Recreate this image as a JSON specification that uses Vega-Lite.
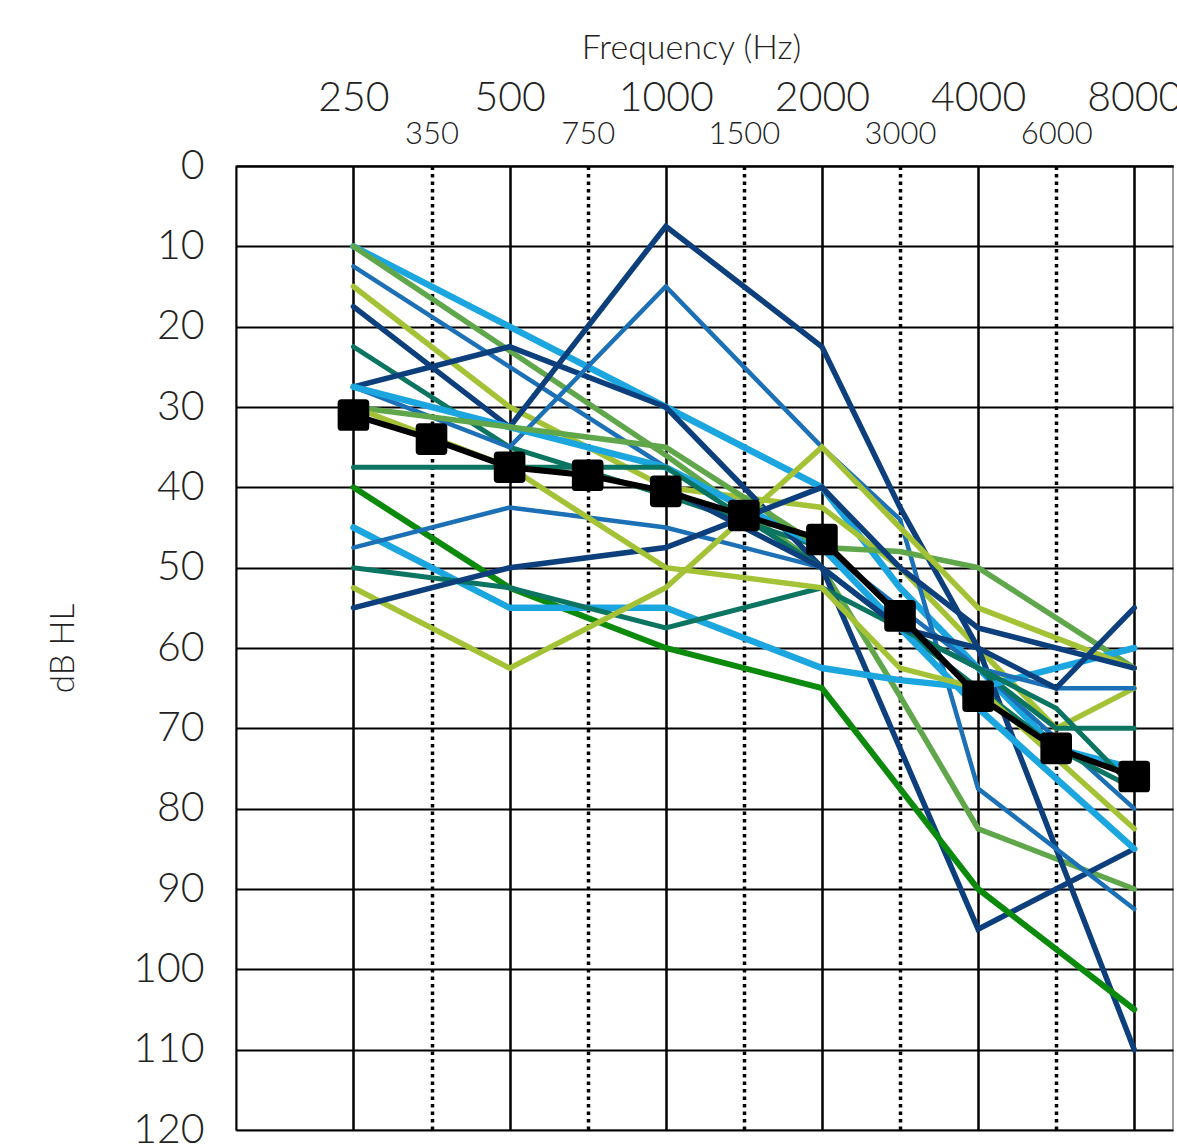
{
  "$schema": "https://vega.github.io/schema/vega-lite/v6.json",
  "width": 937,
  "height": 964,
  "autosize": {"type": "none"},
  "padding": {"left": 236, "top": 166, "right": 4, "bottom": 15},
  "background": "white",
  "config": {
    "font": "Lato",
    "view": {"stroke": "#a0a0a0", "strokeWidth": 2}
  },
  "datasets": {
    "subjects": [
      {"subject": "s1", "tone": "lightblue", "Hz": 250, "dB": 10}, {"subject": "s1", "tone": "lightblue", "Hz": 500, "dB": 20}, {"subject": "s1", "tone": "lightblue", "Hz": 1000, "dB": 30}, {"subject": "s1", "tone": "lightblue", "Hz": 2000, "dB": 40}, {"subject": "s1", "tone": "lightblue", "Hz": 3000, "dB": 52.5}, {"subject": "s1", "tone": "lightblue", "Hz": 4000, "dB": 62.5}, {"subject": "s1", "tone": "lightblue", "Hz": 6000, "dB": 72.5}, {"subject": "s1", "tone": "lightblue", "Hz": 8000, "dB": 75},
      {"subject": "s2", "tone": "midgreen", "Hz": 250, "dB": 10}, {"subject": "s2", "tone": "midgreen", "Hz": 1000, "dB": 36}, {"subject": "s2", "tone": "midgreen", "Hz": 2000, "dB": 50}, {"subject": "s2", "tone": "midgreen", "Hz": 3000, "dB": 66}, {"subject": "s2", "tone": "midgreen", "Hz": 4000, "dB": 82.5}, {"subject": "s2", "tone": "midgreen", "Hz": 8000, "dB": 90},
      {"subject": "s3", "tone": "blue", "Hz": 250, "dB": 12.5}, {"subject": "s3", "tone": "blue", "Hz": 1000, "dB": 37.5}, {"subject": "s3", "tone": "blue", "Hz": 2000, "dB": 47.5}, {"subject": "s3", "tone": "blue", "Hz": 3000, "dB": 55}, {"subject": "s3", "tone": "blue", "Hz": 4000, "dB": 62.5}, {"subject": "s3", "tone": "blue", "Hz": 8000, "dB": 80},
      {"subject": "s4", "tone": "lightgreen", "Hz": 250, "dB": 15}, {"subject": "s4", "tone": "lightgreen", "Hz": 500, "dB": 30}, {"subject": "s4", "tone": "lightgreen", "Hz": 1000, "dB": 40}, {"subject": "s4", "tone": "lightgreen", "Hz": 2000, "dB": 42.5}, {"subject": "s4", "tone": "lightgreen", "Hz": 3000, "dB": 50}, {"subject": "s4", "tone": "lightgreen", "Hz": 4000, "dB": 60}, {"subject": "s4", "tone": "lightgreen", "Hz": 6000, "dB": 70}, {"subject": "s4", "tone": "lightgreen", "Hz": 8000, "dB": 65},
      {"subject": "s5", "tone": "navy", "Hz": 250, "dB": 17.5}, {"subject": "s5", "tone": "navy", "Hz": 500, "dB": 32.5}, {"subject": "s5", "tone": "navy", "Hz": 1000, "dB": 7.5}, {"subject": "s5", "tone": "navy", "Hz": 1500, "dB": 15}, {"subject": "s5", "tone": "navy", "Hz": 2000, "dB": 22.5}, {"subject": "s5", "tone": "navy", "Hz": 3000, "dB": 42.5}, {"subject": "s5", "tone": "navy", "Hz": 4000, "dB": 60}, {"subject": "s5", "tone": "navy", "Hz": 8000, "dB": 110},
      {"subject": "s6", "tone": "teal", "Hz": 250, "dB": 22.5}, {"subject": "s6", "tone": "teal", "Hz": 500, "dB": 35}, {"subject": "s6", "tone": "teal", "Hz": 1000, "dB": 41}, {"subject": "s6", "tone": "teal", "Hz": 2000, "dB": 47.5}, {"subject": "s6", "tone": "teal", "Hz": 3000, "dB": 57.5}, {"subject": "s6", "tone": "teal", "Hz": 4000, "dB": 65}, {"subject": "s6", "tone": "teal", "Hz": 6000, "dB": 72.5}, {"subject": "s6", "tone": "teal", "Hz": 8000, "dB": 77.5},
      {"subject": "s7", "tone": "navy", "Hz": 250, "dB": 27.5}, {"subject": "s7", "tone": "navy", "Hz": 500, "dB": 22.5}, {"subject": "s7", "tone": "navy", "Hz": 1000, "dB": 30}, {"subject": "s7", "tone": "navy", "Hz": 2000, "dB": 50}, {"subject": "s7", "tone": "navy", "Hz": 4000, "dB": 95}, {"subject": "s7", "tone": "navy", "Hz": 8000, "dB": 85},
      {"subject": "s8", "tone": "blue", "Hz": 250, "dB": 27.5}, {"subject": "s8", "tone": "blue", "Hz": 500, "dB": 35}, {"subject": "s8", "tone": "blue", "Hz": 1000, "dB": 15}, {"subject": "s8", "tone": "blue", "Hz": 1500, "dB": 25}, {"subject": "s8", "tone": "blue", "Hz": 2000, "dB": 35}, {"subject": "s8", "tone": "blue", "Hz": 3000, "dB": 44}, {"subject": "s8", "tone": "blue", "Hz": 4000, "dB": 77.5}, {"subject": "s8", "tone": "blue", "Hz": 8000, "dB": 92.5},
      {"subject": "s9", "tone": "lightblue", "Hz": 250, "dB": 27.5}, {"subject": "s9", "tone": "lightblue", "Hz": 500, "dB": 32.5}, {"subject": "s9", "tone": "lightblue", "Hz": 1000, "dB": 37.5}, {"subject": "s9", "tone": "lightblue", "Hz": 2000, "dB": 47.5}, {"subject": "s9", "tone": "lightblue", "Hz": 3000, "dB": 57.5}, {"subject": "s9", "tone": "lightblue", "Hz": 4000, "dB": 67.5}, {"subject": "s9", "tone": "lightblue", "Hz": 8000, "dB": 85},
      {"subject": "s10", "tone": "midgreen", "Hz": 250, "dB": 30}, {"subject": "s10", "tone": "midgreen", "Hz": 500, "dB": 32.5}, {"subject": "s10", "tone": "midgreen", "Hz": 1000, "dB": 35}, {"subject": "s10", "tone": "midgreen", "Hz": 2000, "dB": 47.5}, {"subject": "s10", "tone": "midgreen", "Hz": 3000, "dB": 48}, {"subject": "s10", "tone": "midgreen", "Hz": 4000, "dB": 50}, {"subject": "s10", "tone": "midgreen", "Hz": 8000, "dB": 62.5},
      {"subject": "s11", "tone": "teal", "Hz": 250, "dB": 37.5}, {"subject": "s11", "tone": "teal", "Hz": 1000, "dB": 37.5}, {"subject": "s11", "tone": "teal", "Hz": 2000, "dB": 50}, {"subject": "s11", "tone": "teal", "Hz": 3000, "dB": 57.5}, {"subject": "s11", "tone": "teal", "Hz": 4000, "dB": 62.5}, {"subject": "s11", "tone": "teal", "Hz": 6000, "dB": 70}, {"subject": "s11", "tone": "teal", "Hz": 8000, "dB": 70},
      {"subject": "s12", "tone": "green", "Hz": 250, "dB": 40}, {"subject": "s12", "tone": "green", "Hz": 500, "dB": 52.5}, {"subject": "s12", "tone": "green", "Hz": 1000, "dB": 60}, {"subject": "s12", "tone": "green", "Hz": 2000, "dB": 65}, {"subject": "s12", "tone": "green", "Hz": 4000, "dB": 90}, {"subject": "s12", "tone": "green", "Hz": 8000, "dB": 105},
      {"subject": "s13", "tone": "lightblue", "Hz": 250, "dB": 45}, {"subject": "s13", "tone": "lightblue", "Hz": 500, "dB": 55}, {"subject": "s13", "tone": "lightblue", "Hz": 1000, "dB": 55}, {"subject": "s13", "tone": "lightblue", "Hz": 2000, "dB": 62.5}, {"subject": "s13", "tone": "lightblue", "Hz": 3000, "dB": 64}, {"subject": "s13", "tone": "lightblue", "Hz": 4000, "dB": 65}, {"subject": "s13", "tone": "lightblue", "Hz": 6000, "dB": 62.5}, {"subject": "s13", "tone": "lightblue", "Hz": 8000, "dB": 60},
      {"subject": "s14", "tone": "blue", "Hz": 250, "dB": 47.5}, {"subject": "s14", "tone": "blue", "Hz": 500, "dB": 42.5}, {"subject": "s14", "tone": "blue", "Hz": 1000, "dB": 45}, {"subject": "s14", "tone": "blue", "Hz": 2000, "dB": 50}, {"subject": "s14", "tone": "blue", "Hz": 3000, "dB": 57.5}, {"subject": "s14", "tone": "blue", "Hz": 4000, "dB": 62.5}, {"subject": "s14", "tone": "blue", "Hz": 6000, "dB": 65}, {"subject": "s14", "tone": "blue", "Hz": 8000, "dB": 65},
      {"subject": "s15", "tone": "teal", "Hz": 250, "dB": 50}, {"subject": "s15", "tone": "teal", "Hz": 500, "dB": 52.5}, {"subject": "s15", "tone": "teal", "Hz": 1000, "dB": 57.5}, {"subject": "s15", "tone": "teal", "Hz": 2000, "dB": 52.5}, {"subject": "s15", "tone": "teal", "Hz": 3000, "dB": 57.5}, {"subject": "s15", "tone": "teal", "Hz": 4000, "dB": 62.5}, {"subject": "s15", "tone": "teal", "Hz": 6000, "dB": 67.5}, {"subject": "s15", "tone": "teal", "Hz": 8000, "dB": 77.5},
      {"subject": "s16", "tone": "lightgreen", "Hz": 250, "dB": 52.5}, {"subject": "s16", "tone": "lightgreen", "Hz": 500, "dB": 62.5}, {"subject": "s16", "tone": "lightgreen", "Hz": 1000, "dB": 52.5}, {"subject": "s16", "tone": "lightgreen", "Hz": 2000, "dB": 35}, {"subject": "s16", "tone": "lightgreen", "Hz": 3000, "dB": 45}, {"subject": "s16", "tone": "lightgreen", "Hz": 4000, "dB": 55}, {"subject": "s16", "tone": "lightgreen", "Hz": 8000, "dB": 62.5},
      {"subject": "s17", "tone": "navy", "Hz": 250, "dB": 55}, {"subject": "s17", "tone": "navy", "Hz": 500, "dB": 50}, {"subject": "s17", "tone": "navy", "Hz": 1000, "dB": 47.5}, {"subject": "s17", "tone": "navy", "Hz": 2000, "dB": 40}, {"subject": "s17", "tone": "navy", "Hz": 3000, "dB": 50}, {"subject": "s17", "tone": "navy", "Hz": 4000, "dB": 57.5}, {"subject": "s17", "tone": "navy", "Hz": 8000, "dB": 62.5},
      {"subject": "s18", "tone": "lightgreen", "Hz": 250, "dB": 30}, {"subject": "s18", "tone": "lightgreen", "Hz": 500, "dB": 37.5}, {"subject": "s18", "tone": "lightgreen", "Hz": 1000, "dB": 50}, {"subject": "s18", "tone": "lightgreen", "Hz": 2000, "dB": 52.5}, {"subject": "s18", "tone": "lightgreen", "Hz": 3000, "dB": 62.5}, {"subject": "s18", "tone": "lightgreen", "Hz": 4000, "dB": 65}, {"subject": "s18", "tone": "lightgreen", "Hz": 8000, "dB": 82.5},
      {"subject": "s19", "tone": "navy", "Hz": 1000, "dB": 40}, {"subject": "s19", "tone": "navy", "Hz": 2000, "dB": 50}, {"subject": "s19", "tone": "navy", "Hz": 3000, "dB": 57.5}, {"subject": "s19", "tone": "navy", "Hz": 4000, "dB": 60}, {"subject": "s19", "tone": "navy", "Hz": 6000, "dB": 65}, {"subject": "s19", "tone": "navy", "Hz": 8000, "dB": 55}
    ],
    "mean": [
      {"Hz": 250, "dB": 31}, {"Hz": 350, "dB": 34}, {"Hz": 500, "dB": 37.5}, {"Hz": 750, "dB": 38.5}, {"Hz": 1000, "dB": 40.5}, {"Hz": 1500, "dB": 43.5}, {"Hz": 2000, "dB": 46.5}, {"Hz": 3000, "dB": 56}, {"Hz": 4000, "dB": 66}, {"Hz": 6000, "dB": 72.5}, {"Hz": 8000, "dB": 76}
    ]
  },
  "encoding": {
    "x": {
      "field": "Hz",
      "type": "ordinal",
      "sort": null,
      "scale": {"type": "point", "domain": [250, 350, 500, 750, 1000, 1500, 2000, 3000, 4000, 6000, 8000], "padding": 1.006, "align": 0.752},
      "axis": {
        "orient": "top",
        "title": "Frequency (Hz)",
        "titleFont": "Lato",
        "titleFontSize": 34,
        "titleFontWeight": 300,
        "titleColor": "#222222",
        "titlePadding": 12,
        "titleX": 455,
        "labelAngle": 0,
        "labelFont": "Lato",
        "labelFontWeight": 300,
        "labelColor": "#222222",
        "labelFontSize": {"condition": {"test": "indexof([250,500,1000,2000,4000,8000], datum.value) >= 0", "value": 41}, "value": 31},
        "labelBaseline": {"condition": {"test": "indexof([250,500,1000,2000,4000,8000], datum.value) >= 0", "value": "bottom"}, "value": "top"},
        "labelPadding": 47,
        "labelOverlap": false,
        "labelFlush": false,
        "labelBound": false,
        "ticks": false,
        "domain": true,
        "domainColor": "black",
        "domainWidth": 2,
        "grid": true,
        "gridColor": "black",
        "gridOpacity": 1,
        "gridWidth": {"condition": {"test": "indexof([250,500,1000,2000,4000,8000], datum.value) >= 0", "value": 2.5}, "value": 3.5},
        "gridDash": {"condition": {"test": "indexof([250,500,1000,2000,4000,8000], datum.value) >= 0", "value": []}, "value": [3.5, 4]}
      }
    },
    "y": {
      "field": "dB",
      "type": "quantitative",
      "scale": {"domain": [0, 120], "reverse": true, "nice": false, "zero": false},
      "axis": {
        "orient": "left",
        "values": [0, 10, 20, 30, 40, 50, 60, 70, 80, 90, 100, 110, 120],
        "title": "dB HL",
        "titleFont": "Lato",
        "titleFontSize": 33,
        "titleFontWeight": 300,
        "titleColor": "#222222",
        "titlePadding": 52,
        "labelFont": "Lato",
        "labelFontSize": 41,
        "labelFontWeight": 300,
        "labelColor": "#222222",
        "labelPadding": 32,
        "labelFlush": false,
        "labelOverlap": false,
        "ticks": false,
        "domain": true,
        "domainColor": "black",
        "domainWidth": 2,
        "grid": true,
        "gridColor": "black",
        "gridOpacity": 1,
        "gridWidth": 2
      }
    }
  },
  "layer": [
    {
      "data": {"name": "subjects"},
      "mark": {"type": "line", "strokeJoin": "miter", "strokeCap": "round"},
      "encoding": {
        "detail": {"field": "subject", "type": "nominal"},
        "color": {
          "field": "tone",
          "type": "nominal",
          "legend": null,
          "scale": {
            "domain": ["navy", "blue", "lightblue", "teal", "green", "midgreen", "lightgreen"],
            "range": ["#0c3f7c", "#1c70b6", "#1ca6e0", "#0c7561", "#0b8a0b", "#60a64b", "#a4c236"]
          }
        },
        "strokeWidth": {
          "field": "tone",
          "type": "nominal",
          "legend": null,
          "scale": {
            "type": "ordinal",
            "domain": ["navy", "blue", "lightblue", "teal", "green", "midgreen", "lightgreen"],
            "range": [5.5, 4.5, 6.5, 5, 6, 5.5, 5.5]
          }
        }
      }
    },
    {
      "data": {"name": "mean"},
      "mark": {"type": "line", "color": "black", "strokeWidth": 6}
    },
    {
      "data": {"name": "mean"},
      "mark": {"type": "point", "shape": "M-1,-0.75Q-1,-1,-0.75,-1L0.75,-1Q1,-1,1,-0.75L1,0.75Q1,1,0.75,1L-0.75,1Q-1,1,-1,0.75Z", "filled": true, "color": "black", "opacity": 1, "size": 1000}
    }
  ]
}
